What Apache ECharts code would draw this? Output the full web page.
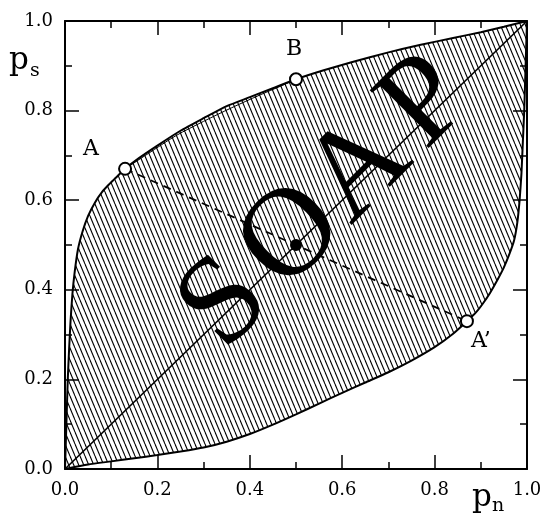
<!DOCTYPE html>
<html>
<head>
<meta charset="utf-8">
<script src="https://cdn.jsdelivr.net/npm/echarts@6/dist/echarts.min.js"></script>
<style>
  html, body { margin: 0; padding: 0; background: #fff; }
  #chart { width: 545px; height: 515px; }
</style>
</head>
<body>
<div id="chart"></div>
<script>
// Axis tick labels (both axes run 0 .. 1 in steps of 0.2)
const tickLabels = ['0.0', '0.2', '0.4', '0.6', '0.8', '1.0'];

// Upper boundary of the SOAP region (p_n, p_s)
const upperX = [0, 0.003, 0.006, 0.009, 0.012, 0.016, 0.021, 0.028, 0.038, 0.05, 0.065, 0.08, 0.095, 0.11, 0.13, 0.16, 0.2, 0.25, 0.3, 0.35, 0.4, 0.45, 0.5, 0.56, 0.62, 0.7, 0.77, 0.84, 0.9, 0.95, 1];
const upperY = [0, 0.1, 0.2, 0.27, 0.33, 0.39, 0.44, 0.49, 0.53, 0.565, 0.595, 0.618, 0.635, 0.65, 0.67, 0.694, 0.722, 0.755, 0.783, 0.81, 0.83, 0.85, 0.87, 0.89, 0.908, 0.93, 0.947, 0.962, 0.975, 0.987, 1];

// Lower boundary of the SOAP region
const lowerX = [0, 0.05, 0.1, 0.15, 0.2, 0.25, 0.3, 0.35, 0.4, 0.45, 0.5, 0.55, 0.6, 0.65, 0.7, 0.75, 0.8, 0.84, 0.87, 0.89, 0.905, 0.92, 0.935, 0.95, 0.962, 0.972, 0.979, 0.984, 0.988, 0.991, 0.994, 0.997, 1];
const lowerY = [0, 0.01, 0.017, 0.024, 0.031, 0.039, 0.048, 0.061, 0.078, 0.099, 0.122, 0.146, 0.17, 0.193, 0.216, 0.242, 0.272, 0.302, 0.33, 0.35, 0.37, 0.393, 0.42, 0.45, 0.48, 0.51, 0.55, 0.6, 0.66, 0.73, 0.8, 0.9, 1];

// Inner edge running just under the boundary between A and B
const innerX = [0.13, 0.18, 0.24, 0.3, 0.36, 0.42, 0.47, 0.5];
const innerY = [0.67, 0.704, 0.744, 0.776, 0.806, 0.834, 0.856, 0.87];

// Diagonal p_s = p_n
const diagX = [0, 1];
const diagY = [0, 1];

// Labelled states on the boundary
const pointNames = ['A', 'B', 'A\u2019'];
const pointX = [0.13, 0.5, 0.87];
const pointY = [0.67, 0.87, 0.33];

// Centre state (filled dot) and the dashed chord A - A'
const centreX = [0.5];
const centreY = [0.5];
const chordX = [0.13, 0.87];
const chordY = [0.67, 0.33];

// Big rotated caption and where it sits
const caption = ['S', 'O', 'A', 'P'];
const captionAt = [0.565, 0.592];

const zip = (xs, ys) => xs.map((x, i) => [x, ys[i]]);

// Diagonal hatch tile ("\" lines)
const tile = document.createElement('canvas');
tile.width = 5; tile.height = 12;
const g = tile.getContext('2d');
g.strokeStyle = '#000';
g.lineWidth = 1.1;
for (const x0 of [-5, 0, 5]) {
  g.beginPath(); g.moveTo(x0, 0); g.lineTo(x0 + 5, 12); g.stroke();
}
const hatch = { image: tile, repeat: 'repeat' };

const serif = 'DejaVu Serif';
const black = '#000';

function axisCfg(pos, showLabel) {
  return {
    type: 'value', min: 0, max: 1, interval: 0.2, position: pos,
    axisLine: { show: true, onZero: false, lineStyle: { color: black, width: 2 } },
    axisTick: { show: true, inside: true, length: 14, lineStyle: { color: black, width: 1.5 } },
    minorTick: { show: true, splitNumber: 2, length: 7, lineStyle: { color: black, width: 1.5 } },
    splitLine: { show: false }, minorSplitLine: { show: false },
    axisLabel: {
      show: showLabel, margin: 12, color: black, fontFamily: serif, fontSize: 18,
      formatter: v => tickLabels[Math.round(v / 0.2)]
    }
  };
}

const chart = echarts.init(document.getElementById('chart'), null, { renderer: 'canvas' });

chart.setOption({
  backgroundColor: '#fff',
  animation: false,
  grid: { left: 65, right: 18, top: 21, bottom: 46 },
  xAxis: [axisCfg('bottom', true), axisCfg('top', false)],
  yAxis: [axisCfg('left', true), axisCfg('right', false)],
  graphic: [
    { type: 'text', x: 9, y: 61, style: { text: 'p', font: '31px "DejaVu Serif"', fill: black, verticalAlign: 'middle' } },
    { type: 'text', x: 30, y: 71, style: { text: 's', font: '19px "DejaVu Serif"', fill: black, verticalAlign: 'middle' } },
    { type: 'text', x: 472, y: 498, style: { text: 'p', font: '31px "DejaVu Serif"', fill: black, verticalAlign: 'middle' } },
    { type: 'text', x: 492, y: 506, style: { text: 'n', font: '19px "DejaVu Serif"', fill: black, verticalAlign: 'middle' } }
  ],
  series: [
    {
      // hatched region between the two boundaries
      type: 'custom', coordinateSystem: 'cartesian2d', silent: true, clip: false, z: 1,
      data: [[0, 0]],
      renderItem(params, api) {
        const pts = [];
        for (let i = 0; i < upperX.length; i++) pts.push(api.coord([upperX[i], upperY[i]]));
        for (let i = lowerX.length - 1; i >= 0; i--) pts.push(api.coord([lowerX[i], lowerY[i]]));
        return { type: 'polygon', shape: { points: pts }, style: { fill: hatch, stroke: null } };
      }
    },
    {
      type: 'line', data: zip(upperX, upperY), smooth: 0.2, symbol: 'none', silent: true, z: 2,
      lineStyle: { color: black, width: 2 }
    },
    {
      type: 'line', data: zip(lowerX, lowerY), smooth: 0.2, symbol: 'none', silent: true, z: 2,
      lineStyle: { color: black, width: 2 }
    },
    {
      type: 'line', data: zip(innerX, innerY), smooth: 0.3, symbol: 'none', silent: true, z: 2,
      lineStyle: { color: black, width: 1 }
    },
    {
      type: 'line', data: zip(diagX, diagY), symbol: 'none', silent: true, z: 2,
      lineStyle: { color: black, width: 1.6 }
    },
    {
      type: 'line', data: zip(chordX, chordY), symbol: 'none', silent: true, z: 2,
      lineStyle: { color: black, width: 1.8, type: [8, 6] }
    },
    {
      // the rotated SOAP caption
      type: 'scatter', data: [captionAt], symbolSize: 0, silent: true, z: 3,
      itemStyle: { opacity: 1 },
      label: {
        show: true, position: 'inside', rotate: 45,
        formatter: caption.map(c => '{l|' + c + '}').join(''),
        rich: { l: { fontFamily: 'Liberation Serif', fontSize: 126, width: 95, align: 'center', color: black } }
      }
    },
    {
      type: 'scatter', data: zip(centreX, centreY), symbol: 'circle', symbolSize: 12, silent: true, z: 4,
      itemStyle: { color: black, opacity: 1 }
    },
    {
      type: 'scatter', symbol: 'circle', symbolSize: 12, silent: true, z: 4,
      itemStyle: { color: '#fff', borderColor: black, borderWidth: 2, opacity: 1 },
      data: pointNames.map((n, i) => ({
        value: [pointX[i], pointY[i]], name: n,
        label: {
          show: true, formatter: n, color: black, fontFamily: serif, fontSize: 22,
          position: 'inside',
          offset: i === 0 ? [-34, -20] : i === 1 ? [-2, -30] : [14, 20]
        }
      }))
    }
  ]
});
</script>
</body>
</html>
